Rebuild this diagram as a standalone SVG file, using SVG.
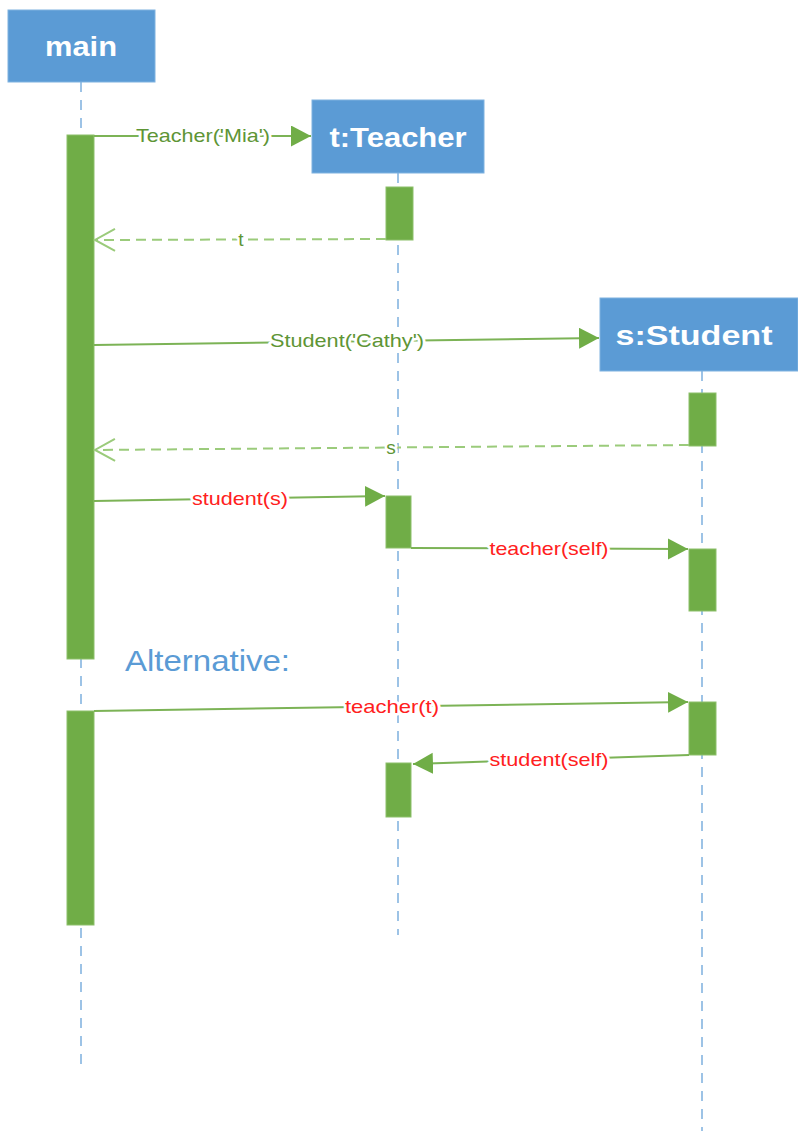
<svg xmlns="http://www.w3.org/2000/svg" width="798" height="1131" viewBox="0 0 798 1131">
<style>
.box{fill:#5B9BD5;stroke:#7FB2E0;stroke-width:1}
.head{font-family:"Liberation Sans","Open Sans",sans-serif;font-weight:bold;font-size:28px;fill:#fff;text-anchor:middle}
.life{stroke:#9DC3E6;stroke-width:2;stroke-dasharray:10 8;fill:none}
.act{fill:#70AD47;stroke:#8CBF6A;stroke-width:1}
.msg{stroke:#7CB356;stroke-width:2;fill:none}
.ret{stroke:#9BCB7B;stroke-width:2;stroke-dasharray:10 6;fill:none}
.lbl{font-family:"Liberation Sans Narrow","Liberation Sans",sans-serif;font-size:19px;text-anchor:middle;stroke:#fff;stroke-width:5;paint-order:stroke;stroke-linejoin:round}
.g{fill:#5E9535}
.r{fill:#FF2020}
.alt{font-family:"Liberation Sans Narrow","Liberation Sans",sans-serif;font-size:29px;fill:#5B9BD5}
</style>
<defs>
<marker id="fill" markerUnits="userSpaceOnUse" markerWidth="22" markerHeight="22" refX="20" refY="10.5" orient="auto">
<path d="M0,0 L20,10.5 L0,21 Z" fill="#70AD47"/>
</marker>
<marker id="open" markerUnits="userSpaceOnUse" markerWidth="26" markerHeight="26" refX="22" refY="12" orient="auto" overflow="visible">
<path d="M2,1 L22,12 L2,23" fill="none" stroke="#9BCB7B" stroke-width="2"/>
</marker>
</defs>
<g id="lifelines">
<line class="life" x1="81" y1="82" x2="81" y2="1065"/>
<line class="life" x1="398" y1="173" x2="398" y2="935"/>
<line class="life" x1="702" y1="371" x2="702" y2="1131"/>
</g>
<g id="main">
<rect class="box" x="8" y="10" width="147" height="72"/>
<text class="head" x="81" y="56" textLength="72" lengthAdjust="spacingAndGlyphs">main</text>
<rect class="act" x="67" y="135" width="27" height="524"/>
<rect class="act" x="67" y="711" width="27" height="214"/>
</g>
<g id="teacher">
<rect class="box" x="312" y="100" width="172" height="73"/>
<text class="head" x="398" y="147" textLength="137" lengthAdjust="spacingAndGlyphs">t:Teacher</text>
<rect class="act" x="386" y="187" width="27" height="53"/>
<rect class="act" x="386" y="496" width="25" height="52"/>
<rect class="act" x="386" y="763" width="25" height="54"/>
</g>
<g id="student">
<rect class="box" x="600" y="298" width="198" height="73"/>
<text class="head" x="694" y="345" textLength="157" lengthAdjust="spacingAndGlyphs">s:Student</text>
<rect class="act" x="689" y="393" width="27" height="53"/>
<rect class="act" x="689" y="549" width="27" height="62"/>
<rect class="act" x="689" y="702" width="27" height="53"/>
</g>
<text class="alt" x="125" y="671" textLength="165" lengthAdjust="spacingAndGlyphs">Alternative:</text>
<g id="connectors">
<line class="msg" x1="94" y1="136" x2="311" y2="136" marker-end="url(#fill)"/>
<text class="lbl g" x="203" y="142" textLength="134" lengthAdjust="spacingAndGlyphs">Teacher('Mia')</text>
<line class="ret" x1="386" y1="239" x2="95" y2="240" marker-end="url(#open)"/>
<text class="lbl g" x="241" y="246">t</text>
<line class="msg" x1="94" y1="345" x2="599" y2="338" marker-end="url(#fill)"/>
<text class="lbl g" x="347" y="347" textLength="154" lengthAdjust="spacingAndGlyphs">Student('Cathy')</text>
<line class="ret" x1="689" y1="445" x2="95" y2="450" marker-end="url(#open)"/>
<text class="lbl g" x="391" y="454">s</text>
<line class="msg" x1="94" y1="501" x2="385" y2="496" marker-end="url(#fill)"/>
<text class="lbl r" x="240" y="505" textLength="96" lengthAdjust="spacingAndGlyphs">student(s)</text>
<line class="msg" x1="411" y1="548" x2="688" y2="549" marker-end="url(#fill)"/>
<text class="lbl r" x="549" y="555" textLength="119" lengthAdjust="spacingAndGlyphs">teacher(self)</text>
<line class="msg" x1="94" y1="711" x2="688" y2="702" marker-end="url(#fill)"/>
<text class="lbl r" x="392" y="713" textLength="94" lengthAdjust="spacingAndGlyphs">teacher(t)</text>
<line class="msg" x1="689" y1="755" x2="413" y2="764" marker-end="url(#fill)"/>
<text class="lbl r" x="549" y="766" textLength="119" lengthAdjust="spacingAndGlyphs">student(self)</text>
</g>
</svg>
